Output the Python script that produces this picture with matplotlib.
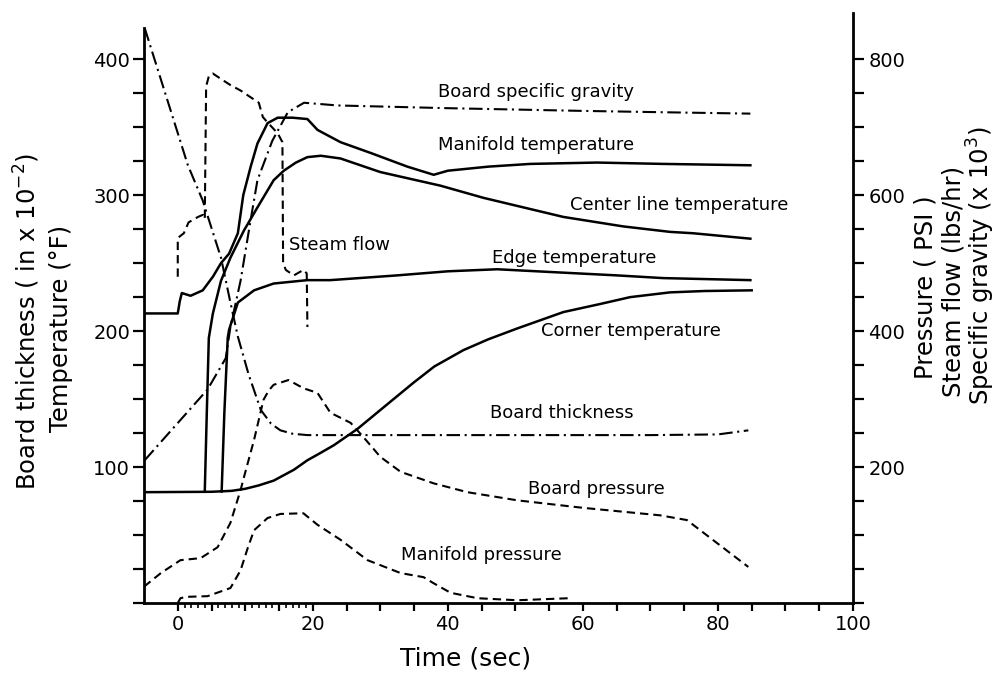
import numpy as np
import matplotlib
matplotlib.use("Agg")
import matplotlib.pyplot as plt

# left axis series: temperature (F) and board thickness (in x 1e-2)
bt_t = [-4.9, 1.5, 3.7, 6.4, 7.8, 8.9, 10.5, 12.3, 13.8, 15.2, 17, 19.2, 30, 50, 70, 80, 84.5]
bt_y = [423, 322, 296, 254, 221, 196, 168, 142, 132, 127, 124.5, 123.5, 123.5, 123.5, 123.5, 124, 127]

mt_t = [-5, 0, 0.3, 0.6, 1.9, 3.7, 5.2, 6.4, 7.6, 8.9, 9.7, 10.8, 11.8, 13.3, 14.8, 17, 19.2,
        20.7, 24.1, 28.6, 34, 37.9, 40, 46, 52.2, 62.1, 71.9, 84.8]
mt_y = [213, 213, 222, 228, 226, 230, 240, 250, 257, 272, 300, 321, 338, 353, 357, 357, 356,
        348, 339, 331, 321, 315, 318, 321, 323, 324, 323, 322]

cl_t = [4.0, 4.3, 4.6, 5.2, 6.4, 7.8, 9.8, 11.8, 14.2, 15.7, 17.5, 19.2, 21.2, 24.1, 30,
        38.9, 45.3, 57.1, 66, 72.9, 76.3, 84.8]
cl_y = [82, 140, 195, 213, 237, 254, 274, 291, 311, 318, 324, 328, 329, 327, 317,
        307, 298, 284, 277, 273, 272, 268]

et_t = [6.5, 6.9, 7.4, 7.6, 8.9, 11.3, 14.2, 19.2, 22.6, 32.5, 40, 47.3, 57.1, 65, 71.9, 84.8]
et_y = [82, 140, 195, 201, 221, 230, 235, 237.5, 237.5, 241, 244, 245.5, 243, 241, 239, 237.5]

ct_t = [-5, 5, 8, 10, 12, 14.2, 17.2, 19.2, 21, 23.1, 26.6, 30.5, 34.9, 38, 42.3, 46, 50.3,
        57.1, 62.6, 67, 72.9, 78, 85]
ct_y = [81.5, 81.8, 82.5, 84, 86.5, 90, 98, 105, 110, 116, 128, 144, 162, 174, 186, 194, 202,
        214, 220, 225, 228.5, 229.5, 230]

# right axis series: pressure (PSI), steam flow (lbs/hr), specific gravity (x 1e3)
sg_t = [-4.9, 4.4, 7.1, 7.8, 9.3, 10.8, 11.8, 14, 16.3, 18.7, 23.7, 40, 60, 72, 84.8]
sg_y = [210, 314, 360, 406, 474, 564, 622, 680, 722, 736, 732, 728, 724, 722, 720]

bp_t = [-5, -2.5, 0.4, 3.4, 5.9, 7.8, 9.3, 9.8, 11.3, 12.7, 13.5, 14.2, 16.4, 18.6, 20.7, 22.6,
        25.6, 27.5, 30, 33, 37.9, 42.9, 50.3, 60, 71.4, 75.4, 84.5]
bp_y = [24, 44, 63, 66, 82, 118, 166, 185, 240, 299, 313, 321, 328, 316, 309, 280,
        265, 244, 215, 193, 176, 163, 151, 140, 129, 122, 53]

mp_t = [0, 0.4, 1.2, 4.4, 7.8, 9.3, 10.4, 11.3, 13.3, 15.2, 18.6, 20.7, 24.1, 28.1, 33, 36.4,
        37.9, 40.4, 44.4, 50.3, 57.9]
mp_y = [0, 7, 9, 10, 22, 48, 82, 107, 125, 131, 132, 115, 93, 63, 44, 38,
        29, 15, 7, 4, 7]

sf_t = [0, 0, 0.9, 1.6, 3.0, 3.7, 4.0, 4.2, 4.6, 5.2, 6.4, 7.8, 9.3, 10.8, 12.0, 12.6, 13.3,
        14.8, 15.5, 15.6, 16.0, 17.2, 18.6, 19.1, 19.2]
sf_y = [480, 537, 544, 560, 568, 571, 565, 760, 775, 779, 771, 762, 754, 744, 736, 715, 707,
        691, 678, 500, 490, 482, 490, 485, 406]

# curve labels (left axis data coords)
labels = ["Board specific gravity", "Manifold temperature", "Steam flow",
          "Center line temperature", "Edge temperature", "Corner temperature",
          "Board thickness", "Board pressure", "Manifold pressure"]
label_t = [38.5, 38.6, 16.4, 58.1, 46.6, 53.8, 46.2, 51.9, 33.0]
label_y = [376, 337, 263, 293, 254, 200, 140, 84, 35]

plt.rcParams['font.family'] = ['DejaVu Sans']

fig = plt.figure(figsize=(10, 6.75), dpi=100)
ax = fig.add_axes([0.144, 0.1067, 0.709, 0.874])
ax.set_xlim(-5, 100)
ax.set_ylim(0, 434)
ax2 = ax.twinx()
ax2.set_ylim(0, 868)

solid = dict(color='black', lw=1.8, solid_joinstyle='round')
dashed = dict(color='black', lw=1.5, linestyle=(0, (4, 2.4)))
dashdot = dict(color='black', lw=1.5, linestyle=(0, (6.5, 2.2, 1, 2.2)))

ax.plot(mt_t, mt_y, **solid)
ax.plot(cl_t, cl_y, **solid)
ax.plot(et_t, et_y, **solid)
ax.plot(ct_t, ct_y, **solid)
ax.plot(bt_t, bt_y, **dashdot)

ax2.plot(sg_t, sg_y, **dashdot)
ax2.plot(bp_t, bp_y, **dashed)
ax2.plot(mp_t, mp_y, **dashed)
ax2.plot(sf_t, sf_y, **dashed)

for s, tx, ty in zip(labels, label_t, label_y):
    ax.text(tx, ty, s, fontsize=13, ha='left', va='center')

# spines
for sp in ['top', 'right']:
    ax.spines[sp].set_visible(False)
for sp in ['top', 'left', 'bottom']:
    ax2.spines[sp].set_visible(False)
ax.spines['left'].set_bounds(0, 423)
for sp in [ax.spines['left'], ax.spines['bottom'], ax2.spines['right']]:
    sp.set_linewidth(2)

# x ticks
xt = np.arange(0, 101, 5)
ax.set_xticks(xt)
ax.set_xticklabels([str(v) if v % 20 == 0 else '' for v in xt], fontsize=14)
ax.set_xticks([v for v in range(1, 20) if v % 5 != 0], minor=True)
ax.tick_params(axis='x', which='major', direction='out', length=6, width=1.6, pad=3)
ax.tick_params(axis='x', which='minor', direction='out', length=3.5, width=1.2)

# left y ticks
yt = np.arange(0, 401, 25)
ax.set_yticks(yt)
ax.set_yticklabels([str(v) if v % 100 == 0 and v > 0 else '' for v in yt], fontsize=14)
ax.tick_params(axis='y', direction='out', length=8, width=1.6, pad=2)

# right y ticks
yt2 = np.arange(0, 801, 50)
ax2.set_yticks(yt2)
ax2.set_yticklabels([str(v) if v % 200 == 0 and v > 0 else '' for v in yt2], fontsize=14)
ax2.tick_params(axis='y', direction='out', length=8, width=1.6, pad=3)

# axis titles
fig.text(0.466, 0.025, "Time (sec)", fontsize=18, ha='center', va='center')
fig.text(0.027, 0.524, "Board thickness ( in x 10$^{-2}$)", fontsize=17.5,
         rotation=90, ha='center', va='center')
fig.text(0.061, 0.514, "Temperature (\u00b0F)", fontsize=17.5,
         rotation=90, ha='center', va='center')
fig.text(0.925, 0.575, "Pressure ( PSI )", fontsize=17.5,
         rotation=90, ha='center', va='center')
fig.text(0.953, 0.583, "Steam flow (lbs/hr)", fontsize=17.5,
         rotation=90, ha='center', va='center')
fig.text(0.981, 0.607, "Specific gravity (x 10$^{3}$)", fontsize=17.5,
         rotation=90, ha='center', va='center')

fig.savefig("out.png", dpi=100)
